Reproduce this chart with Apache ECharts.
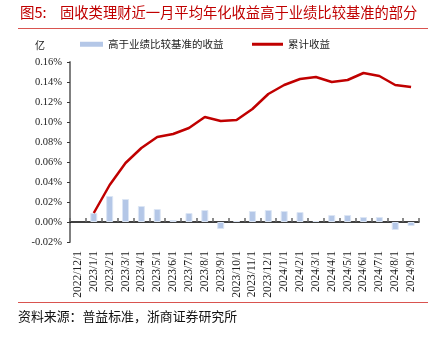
<!DOCTYPE html>
<html>
<head>
<meta charset="utf-8">
<script src="https://cdn.jsdelivr.net/npm/echarts@6/dist/echarts.min.js"></script>
<style>
  html, body { margin: 0; padding: 0; background: #fff; }
  #chart { width: 442px; height: 339px; }
</style>
</head>
<body>
<div id="chart"></div>
<script>
// Monthly observation dates
const categories = [
  '2022/12/1', '2023/1/1', '2023/2/1', '2023/3/1', '2023/4/1', '2023/5/1',
  '2023/6/1', '2023/7/1', '2023/8/1', '2023/9/1', '2023/10/1', '2023/11/1',
  '2023/12/1', '2024/1/1', '2024/2/1', '2024/3/1', '2024/4/1', '2024/5/1',
  '2024/6/1', '2024/7/1', '2024/8/1', '2024/9/1'
];
// Monthly excess return over benchmark (%)
const excessReturn = [
  null, 0.009, 0.026, 0.023, 0.016, 0.013, 0.002, 0.009, 0.012, -0.007, 0.001, 0.011,
  0.012, 0.011, 0.010, 0.001, 0.007, 0.007, 0.005, 0.005, -0.008, -0.004
];
// Cumulative excess return (%)
const cumulativeReturn = [
  null, 0.009, 0.037, 0.059, 0.074, 0.085, 0.088, 0.094, 0.105, 0.101, 0.102, 0.113,
  0.128, 0.137, 0.143, 0.145, 0.140, 0.142, 0.149, 0.146, 0.137, 0.135
];
const yTicks = { min: -0.02, max: 0.16, interval: 0.02 };

const SERIF = 'Liberation Serif';
const CJK = 'Noto Sans CJK SC';

const chart = echarts.init(document.getElementById('chart'), null, { renderer: 'canvas' });

chart.setOption({
  animation: false,
  backgroundColor: '#ffffff',
  grid: { left: 70, right: 23, top: 62, bottom: 97, containLabel: false },
  legend: [
    {
      data: [{
        name: '高于业绩比较基准的收益', icon: 'rect',
        itemStyle: { color: '#b4c7e7', borderWidth: 0 }
      }],
      left: 80, top: 39, padding: 0,
      itemWidth: 23, itemHeight: 5,
      textStyle: { fontFamily: CJK, fontSize: 10.5, color: '#222' }
    },
    {
      data: [{
        name: '累计收益', icon: 'rect',
        itemStyle: { color: '#c00000', borderWidth: 0 }
      }],
      left: 252, top: 39, padding: 0,
      itemWidth: 31, itemHeight: 3,
      textStyle: { fontFamily: CJK, fontSize: 10.5, color: '#222' }
    }
  ],
  xAxis: [
    {
      type: 'category',
      data: categories,
      boundaryGap: true,
      axisLine: { onZero: true, lineStyle: { color: '#000', width: 1.5 } },
      axisTick: { show: true, inside: true, length: 4, interval: 0, lineStyle: { color: '#666', width: 1.5 } },
      axisLabel: { show: false },
      splitLine: { show: false }
    },
    {
      type: 'category',
      data: categories,
      position: 'bottom',
      boundaryGap: true,
      axisLine: { show: false, onZero: false },
      axisTick: { show: false },
      axisLabel: {
        show: true, interval: 0, rotate: 90, margin: 9,
        fontFamily: SERIF, fontSize: 11.5, color: '#222'
      },
      splitLine: { show: false }
    }
  ],
  yAxis: {
    type: 'value',
    min: yTicks.min, max: yTicks.max, interval: yTicks.interval,
    axisLine: { show: true, lineStyle: { color: '#808080', width: 2 } },
    axisTick: { show: true, length: 3, lineStyle: { color: '#333', width: 1 } },
    axisLabel: {
      margin: 8,
      fontFamily: SERIF, fontSize: 10.5, color: '#222',
      formatter: v => v.toFixed(2) + '%'
    },
    splitLine: { show: false }
  },
  series: [
    {
      name: '高于业绩比较基准的收益',
      type: 'bar',
      xAxisIndex: 0,
      data: excessReturn,
      barWidth: 7,
      itemStyle: { color: '#b4c7e7', borderColor: '#dbe5f4', borderWidth: 1 }
    },
    {
      name: '累计收益',
      type: 'line',
      xAxisIndex: 0,
      data: cumulativeReturn,
      symbol: 'none',
      lineStyle: { color: '#c00000', width: 2.5 },
      itemStyle: { color: '#c00000' },
      z: 5
    }
  ],
  graphic: [
    {
      type: 'text', left: 20, top: 5,
      style: { text: '图5:', fill: '#c00000', font: '14.5px "Noto Sans CJK SC"' }
    },
    {
      type: 'text', left: 60, top: 5,
      style: { text: '固收类理财近一月平均年化收益高于业绩比较基准的部分', fill: '#c00000', font: '14.3px "Noto Sans CJK SC"' }
    },
    {
      type: 'line', shape: { x1: 18, y1: 28.5, x2: 428, y2: 28.5 },
      style: { stroke: '#d9534f', lineWidth: 1 }
    },
    {
      type: 'text', left: 35, top: 40,
      style: { text: '亿', fill: '#222', font: '10px "Noto Sans CJK SC"' }
    },
    {
      type: 'line', shape: { x1: 18, y1: 302.5, x2: 428, y2: 302.5 },
      style: { stroke: '#d9534f', lineWidth: 1 }
    },
    {
      type: 'text', left: 18, top: 310,
      style: { text: '资料来源：普益标准，浙商证券研究所', fill: '#111', font: '12.9px "Noto Sans CJK SC"' }
    }
  ]
});
</script>
</body>
</html>
